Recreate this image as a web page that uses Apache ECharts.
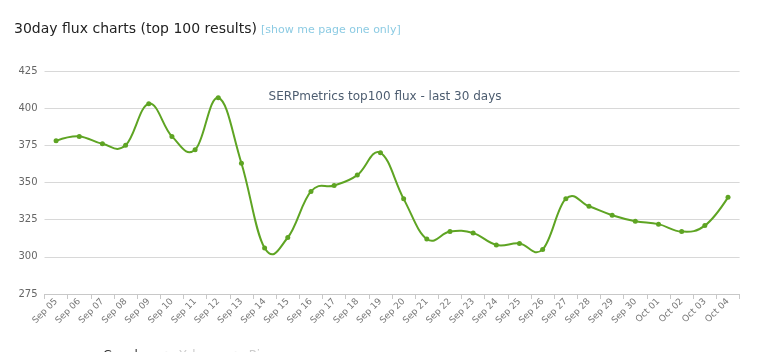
<!DOCTYPE html>
<html>
<head>
<meta charset="utf-8">
<script src="https://cdn.jsdelivr.net/npm/echarts@6/dist/echarts.min.js"></script>
<style>
  html, body { margin: 0; padding: 0; background: #fff; }
</style>
</head>
<body>
<div id="charts" style="width: 760px; height: 352px"></div>
<script>
// chart data
const days = ['Sep 05', 'Sep 06', 'Sep 07', 'Sep 08', 'Sep 09', 'Sep 10', 'Sep 11', 'Sep 12', 'Sep 13', 'Sep 14',
  'Sep 15', 'Sep 16', 'Sep 17', 'Sep 18', 'Sep 19', 'Sep 20', 'Sep 21', 'Sep 22', 'Sep 23', 'Sep 24',
  'Sep 25', 'Sep 26', 'Sep 27', 'Sep 28', 'Sep 29', 'Sep 30', 'Oct 01', 'Oct 02', 'Oct 03', 'Oct 04']
const googleFlux = [378, 381, 376, 375, 403, 381, 372, 407, 363, 306,
  313, 344, 348, 355, 370, 339, 312, 317, 316, 308,
  309, 305, 339, 334, 328, 324, 322, 317, 321, 340]
const yahooFlux = []
const bingFlux = []
const seriesNames = ['Google', 'Yahoo', 'Bing']
const yTicks = [275, 300, 325, 350, 375, 400, 425]

const lineColor = '#5ea423'
const fontFamily = '"DejaVu Sans", Verdana, sans-serif'
const chart = echarts.init(document.getElementById('charts'))

// old-style spline: control points at 1/2.5 of the gap, no clamping at extremes
function splineConts(pts, i) {
  const smoothing = 1.5
  const denom = smoothing + 1
  const p = pts[i], last = pts[i - 1], next = pts[i + 1]
  let lx = (smoothing * p[0] + last[0]) / denom
  let ly = (smoothing * p[1] + last[1]) / denom
  let rx = (smoothing * p[0] + next[0]) / denom
  let ry = (smoothing * p[1] + next[1]) / denom
  let correction = 0
  if (rx !== lx) {
    correction = ((ry - ly) * (rx - p[0])) / (rx - lx) + p[1] - ry
  }
  return { lx: lx, ly: ly + correction, rx: rx, ry: ry + correction }
}

function renderSpline(params, api) {
  if (params.dataIndex !== 0) {
    return
  }
  const pts = googleFlux.map((v, i) => api.coord([i, v]))
  const conts = pts.map((p, i) => (i > 0 && i < pts.length - 1) ? splineConts(pts, i) : null)
  const children = []
  for (let i = 1; i < pts.length; i++) {
    const a = pts[i - 1], b = pts[i]
    const ca = conts[i - 1], cb = conts[i]
    children.push({
      type: 'bezierCurve',
      shape: {
        x1: a[0], y1: a[1],
        cpx1: ca ? ca.rx : a[0], cpy1: ca ? ca.ry : a[1],
        cpx2: cb ? cb.lx : b[0], cpy2: cb ? cb.ly : b[1],
        x2: b[0], y2: b[1]
      },
      style: { stroke: lineColor, lineWidth: 2, fill: null, lineCap: 'round' }
    })
  }
  return { type: 'group', children: children }
}

chart.setOption({
  backgroundColor: '#fff',
  animation: false,
  textStyle: { fontFamily: fontFamily },
  title: [
    {
      text: '30day flux charts (top 100 results)',
      left: 9,
      top: 17,
      textStyle: { fontSize: 14, fontWeight: 'normal', color: '#222', fontFamily: fontFamily }
    },
    {
      text: '[show me page one only]',
      left: 256,
      top: 20,
      textStyle: { fontSize: 11, fontWeight: 'normal', color: '#8ccbe3', fontFamily: fontFamily }
    },
    {
      // chart title
      text: 'SERPmetrics top100 flux - last 30 days',
      left: 380,
      top: 86,
      textAlign: 'center',
      textStyle: { fontSize: 12, fontWeight: 'normal', color: '#4d5d70', fontFamily: fontFamily }
    }
  ],
  grid: {
    left: 44.5,
    right: 20.4,
    top: 71,
    bottom: 58,
    containLabel: false
  },
  legend: {
    data: seriesNames,
    bottom: -15,
    left: 76,
    itemGap: 12,
    itemWidth: 16,
    itemHeight: 8,
    selected: { 'Google': true, 'Yahoo': false, 'Bing': false },
    inactiveColor: '#ccc',
    lineStyle: { width: 2 },
    textStyle: { fontSize: 12, color: '#333' }
  },
  xAxis: {
    type: 'category',
    data: days,
    boundaryGap: true,
    axisLine: { lineStyle: { color: '#c8c8c8' } },
    axisTick: { show: true, interval: 0, length: 5, lineStyle: { color: '#c8c8c8' } },
    axisLabel: {
      interval: 0,
      rotate: 45,
      fontSize: 9,
      color: '#777',
      margin: 6
    },
    splitLine: { show: false }
  },
  yAxis: {
    type: 'value',
    min: yTicks[0],
    max: yTicks[yTicks.length - 1],
    interval: 25,
    axisLine: { show: false },
    axisTick: { show: false },
    axisLabel: { fontSize: 10, color: '#666', margin: 7 },
    splitLine: { lineStyle: { color: '#d8d8d8', width: 1 } }
  },
  series: [
    {
      name: 'Google',
      type: 'line',
      data: googleFlux,
      symbol: 'circle',
      symbolSize: 5,
      z: 3,
      itemStyle: { color: lineColor },
      lineStyle: { color: lineColor, width: 2, opacity: 0 }
    },
    {
      name: 'spline',
      type: 'custom',
      data: googleFlux.map((v, i) => [i, v]),
      renderItem: renderSpline,
      z: 2,
      silent: true
    },
    {
      name: 'Yahoo',
      type: 'line',
      data: yahooFlux,
      itemStyle: { color: '#aaa' }
    },
    {
      name: 'Bing',
      type: 'line',
      data: bingFlux,
      itemStyle: { color: '#aaa' }
    }
  ]
})
</script>
</body>
</html>
